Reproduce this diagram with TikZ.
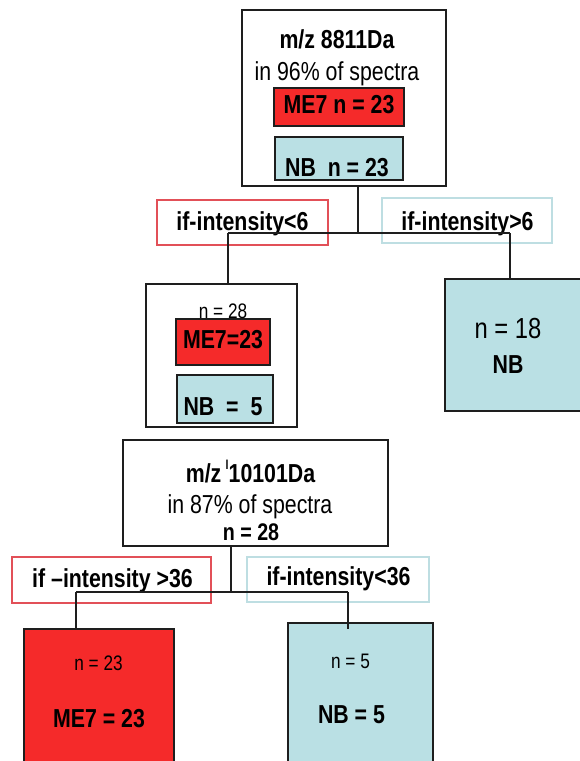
\documentclass[tikz,border=0pt]{standalone}
\usepackage{fontspec}
\setmainfont{Liberation Sans}[FakeStretch=0.82]
\definecolor{boxred}{RGB}{245,42,42}
\definecolor{boxblue}{RGB}{186,224,228}
\definecolor{labred}{RGB}{226,80,88}
\definecolor{labblue}{RGB}{190,222,226}
\definecolor{ink}{RGB}{30,30,30}
\tikzset{
  box/.style={draw=ink, line width=1.8pt, inner sep=0pt},
  redbox/.style={box, fill=boxred},
  bluebox/.style={box, fill=boxblue},
  wbox/.style={box, fill=white},
  labr/.style={draw=labred, line width=1.6pt, fill=white, inner sep=0pt},
  labb/.style={draw=labblue, line width=1.6pt, fill=white, inner sep=0pt},
  txt/.style={anchor=base, inner sep=0pt, text=black},
  big/.style={txt, font=\fontsize{26}{28}\selectfont},
  bigb/.style={txt, font=\fontsize{26}{28}\selectfont\bfseries},
  small/.style={txt, font=\fontsize{21}{23}\selectfont},
  conn/.style={draw=ink, line width=1.7pt},
}
\begin{document}
\begin{tikzpicture}[x=1pt,y=-1pt]
\useasboundingbox (0,0) rectangle (579,761);
% boxes
\node[wbox, minimum width=204pt, minimum height=176pt] (top) at (344,98) {};
\node[redbox, minimum width=130pt, minimum height=38pt] (topred) at (339,107) {};
\node[bluebox, minimum width=128pt, minimum height=43pt] (topnb) at (339,158.5) {};
\node[labr, minimum width=171pt, minimum height=45pt] (lab1) at (242.5,222.5) {};
\node[labb, minimum width=170pt, minimum height=45pt] (lab2) at (467,220.5) {};
\node[wbox, minimum width=151pt, minimum height=143pt] (mid) at (221.5,355.5) {};
\node[redbox, minimum width=94pt, minimum height=46pt] (midred) at (223,342) {};
\node[bluebox, minimum width=96pt, minimum height=48pt] (midnb) at (225,399) {};
\node[bluebox, minimum width=139pt, minimum height=132pt] (right) at (514.5,345) {};
\node[wbox, minimum width=265pt, minimum height=106pt] (second) at (255.5,493) {};
\node[labr, minimum width=199pt, minimum height=46pt] (lab3) at (111.5,580) {};
\node[labb, minimum width=182pt, minimum height=45pt] (lab4) at (338,579.5) {};
\node[redbox, minimum width=150pt, minimum height=136pt] (leafred) at (99,697) {};
\node[bluebox, minimum width=145pt, minimum height=142pt] (leafnb) at (360.5,694) {};
% texts
\node[bigb] (t1) at (337,48) {m/z 8811Da};
\node[big] (t2) at (337,80) {in 96\% of spectra};
\node[bigb] (t3) at (339,113) {ME7 n = 23};
\node[bigb] (t4) at (337,176) {NB\ \ n = 23};
\node[bigb] (l1) at (242.5,230) {if-intensity<6};
\node[bigb] (l2) at (467.5,230) {if-intensity>6};
\node[small] (m1) at (223,318) {n = 28};
\node[bigb] (m2) at (223,348) {ME7=23};
\node[bigb] (m3) at (223,415) {NB\ \ =\ \ 5};
\node[txt, font=\fontsize{29}{31}\selectfont] (r1) at (508,338) {n = 18};
\node[bigb] (r2) at (508,373) {NB};
\node[bigb] (s1) at (250.5,482) {m/z\,\raisebox{0.48em}{\fontsize{13}{13}\selectfont l}10101Da};
\node[big] (s2) at (250,513) {in 87\% of spectra};
\node[txt, font=\fontsize{24}{26}\selectfont\bfseries] (s3) at (251,540) {n = 28};
\node[bigb] (l3) at (112.5,587) {if \textendash intensity >36};
\node[bigb] (l4) at (338.5,585) {if-intensity<36};
\node[small] (f1) at (98.5,670) {n = 23};
\node[bigb] (f2) at (99,727) {ME7 = 23};
\node[small] (f3) at (350.5,668) {n = 5};
\node[bigb] (f4) at (351.5,723) {NB = 5};
% connectors
\coordinate (j1) at (358,233);
\coordinate (j1l) at (228,233);
\coordinate (j1r) at (510,233);
\draw[conn] (top.south -| j1) -- (j1);
\draw[conn] (j1l) -- (j1r);
\draw[conn] (j1l) -- (mid.north -| j1l);
\draw[conn] (j1r) -- (right.north -| j1r);
\coordinate (j2) at (231,592);
\coordinate (j2l) at (76,592);
\coordinate (j2r) at (348,592);
\draw[conn] (second.south -| j2) -- (j2);
\draw[conn] (j2l) -- (j2r);
\draw[conn] (j2l) -- (leafred.north -| j2l);
\draw[conn] (j2r) -- ([yshift=-7pt]leafnb.north -| j2r);
\end{tikzpicture}
\end{document}
